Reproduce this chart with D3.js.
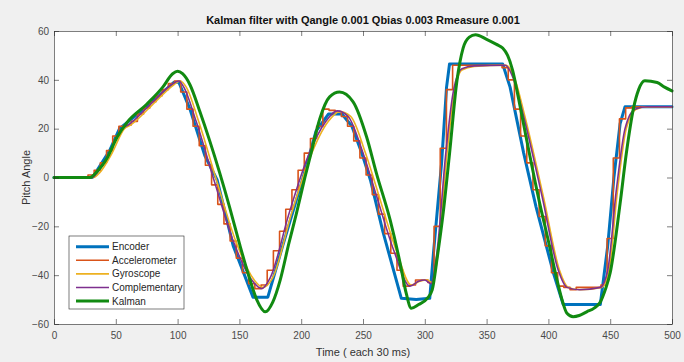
<!DOCTYPE html>
<html><head><meta charset="utf-8">
<script src="https://cdn.jsdelivr.net/npm/d3@7/dist/d3.min.js"></script>
<style>
body{margin:0;background:#f0f0f0;}
svg{display:block;font-family:"Liberation Sans",Arial,sans-serif;}
</style>
</head><body>
<svg id="chart" width="684" height="362"></svg>
<script>
// ---------- data ----------
const titleText = "Kalman filter with Qangle 0.001 Qbias 0.003 Rmeasure 0.001";
const xLabel = "Time ( each 30 ms)";
const yLabel = "Pitch Angle";
const xTicks = [0,50,100,150,200,250,300,350,400,450,500];
const yTicks = [-60,-40,-20,0,20,40,60];
const seriesNames = ["Encoder","Accelerometer","Gyroscope","Complementary","Kalman"];

const encoderT = [0,31,35,45,53,58,70,85,97,101,110,122,132,145,161,173,185,201,212,222,233,241,249,256,266,281,293,304,307,313.6,317.6,320,363,369,380,390,404,412,442,448,453,458,462,500];
const encoderV = [0,0,3,11,20,22,27,33.5,39,39,28,9,-1,-28,-49,-49,-28,-1,19,26,26,21,10,-1,-22,-49.5,-50,-49.5,-31,6,37,46.5,46.5,37,10,-12,-39,-52,-52,-28,0,22,29,29];

// accelerometer sampled every 5 time steps (0..500)
const accelV = [0,0,0,0,0,0,1,3,6,11,
  17,21,21.5,23,26,28.5,31,33.5,36,38.5,
  39.5,35,28,21,13,5,-3,-11,-19,-26,
  -33,-39,-43.5,-45.5,-44,-38,-30,-22,-13,-5,
  3,10,16,21,28,27.5,27,25,21,15,
  8,1,-7,-15,-23,-31,-38,-44.5,-44,-42,
  -42,-43,-20,12,36,46,46,46,46,46,
  46,46,46,45,40,28,17,6,-5,-16,
  -28,-39,-44.5,-45,-46,-45,-45,-45,-45,-44,
  -25,8,24,28.5,29,29,29,29,29,29,29];

const gyroT = [0,32,37,47,57,62,82,97,102,107,117,132,147,162,169,177,192,207,222,231,240,252,262,277,289,296,302,306,311,318,324,330,340,366,373,381,396,409,416,426,443,449,456,463,471,481,500];
const gyroV = [0,0,2,10,20,21.5,31,38,39.5,37,23,-2,-26,-42,-45,-41,-15,8,23,27,25,10,-6,-30,-44,-42.5,-42,-43,-30,10,35,44,45.5,46,40,25,-8,-38,-45,-46,-45,-38,-5,20,28,29,29];

const compT = [0,31,35,45,55,60,80,95,101,105,115,130,145,160,168,175,190,205,220,229,238,250,260,275,288,295,300,305,310,317,323,330,340,365,372,380,395,408,415,425,442,448,455,462,470,480,500];
const compV = [0,0,2,10,20,21.5,31,38,39.5,37,23,-2,-26,-42,-45.5,-41,-15,8,23,27.3,25,10,-6,-30,-44.5,-42.5,-42,-43.5,-30,10,35,44.5,45.7,46,40,25,-8,-38,-45,-46,-45,-38,-5,20,28,29,29];

const kalmanT = [0,29,35,43,51,59,75,88,96,100,104,110,118,126,134,142,150,158,164,171,177,183,190,196,203,208,215,223,231,242,253,261,272,280,285,289,295,302,306,310,315,320,326,331,336,341,350,358,363,367,371,376,382,393,400,407,411,415,420,425,431,437,442,446,450,458,463,469,473,478,488,494,500];
const kalmanV = [0,0,2.5,8,16.5,22.5,30,37,42.5,43.5,42.5,38,27,15,2,-12,-27,-41,-50,-55,-51,-42,-27,-15,0,10,24,33,35,31,16.5,1.5,-17.5,-35,-47.5,-53.5,-52,-49.5,-46,-33,-14,9.7,39.6,53,57.5,58.5,56.6,54.5,53,50,44,32,16.5,-10.7,-26,-42,-50,-55.6,-57,-56.5,-55,-53.5,-51,-46,-39,-10.7,9.7,28.7,36,39.6,38.9,37,35.5];

const colors = ["#0072BD","#D95319","#EDB120","#7E2F8E","#118A11"];
const widths = [3,1.6,1.6,1.6,3];

// ---------- layout ----------
const W = 684, H = 362;
const m = {left:54, right:12, top:31, bottom:38};
const svg = d3.select("#chart");
const x = d3.scaleLinear().domain([0,500]).range([m.left, W-m.right]);
const y = d3.scaleLinear().domain([-60,60]).range([H-m.bottom, m.top]);

svg.append("rect").attr("width",W).attr("height",H).attr("fill","#f0f0f0");
svg.append("rect").attr("x",m.left).attr("y",m.top)
  .attr("width",x(500)-x(0)).attr("height",y(-60)-y(60)).attr("fill","#fff");

const zip = (T,V) => T.map((t,i)=>[t,V[i]]);
const accelT = d3.range(0,501,5);
const data = [
  {pts: zip(encoderT,encoderV), curve: d3.curveLinear},
  {pts: zip(accelT,accelV), curve: d3.curveStep},
  {pts: zip(gyroT,gyroV), curve: d3.curveMonotoneX},
  {pts: zip(compT,compV), curve: d3.curveMonotoneX},
  {pts: zip(kalmanT,kalmanV), curve: d3.curveMonotoneX}
];

const plot = svg.append("g");
data.forEach((d,i)=>{
  const line = d3.line().x(p=>x(p[0])).y(p=>y(p[1])).curve(d.curve);
  plot.append("path").attr("d",line(d.pts)).attr("fill","none")
    .attr("stroke",colors[i]).attr("stroke-width",widths[i])
    .attr("stroke-linejoin","round").attr("stroke-linecap","round");
});

// ---------- axes ----------
const axColor = "#262626";
function styleAxis(g){
  g.selectAll("path,line").attr("stroke",axColor).attr("stroke-width",0.6);
  g.selectAll("text").attr("fill","#4a4a4a").style("font-size","10px").attr("font-family",null);
}
svg.append("g").attr("transform",`translate(0,${y(-60)})`)
  .call(d3.axisBottom(x).tickValues(xTicks).tickSize(-5).tickSizeOuter(0).tickPadding(8)).call(styleAxis);
svg.append("g").attr("transform",`translate(0,${y(60)})`)
  .call(d3.axisTop(x).tickValues(xTicks).tickSize(-5).tickSizeOuter(0).tickFormat("")).call(styleAxis);
svg.append("g").attr("transform",`translate(${x(0)},0)`)
  .call(d3.axisLeft(y).tickValues(yTicks).tickSize(-5).tickSizeOuter(0).tickPadding(5)).call(styleAxis);
svg.append("g").attr("transform",`translate(${x(500)},0)`)
  .call(d3.axisRight(y).tickValues(yTicks).tickSize(-5).tickSizeOuter(0).tickFormat("")).call(styleAxis);

// ---------- texts ----------
svg.append("text").attr("x",(x(0)+x(500))/2).attr("y",24).attr("text-anchor","middle")
  .attr("font-weight","bold").attr("font-size",11).attr("fill","#111").text(titleText);
svg.append("text").attr("x",(x(0)+x(500))/2).attr("y",356).attr("text-anchor","middle")
  .attr("font-size",11).attr("fill","#333").text(xLabel);
svg.append("text").attr("transform",`translate(30,${(y(60)+y(-60))/2}) rotate(-90)`)
  .attr("text-anchor","middle").attr("font-size",11).attr("fill","#333").text(yLabel);

// ---------- legend ----------
const lg = svg.append("g").attr("transform","translate(69,236)");
lg.append("rect").attr("width",115).attr("height",73).attr("fill","#fff")
  .attr("stroke","#262626").attr("stroke-width",0.6);
seriesNames.forEach((n,i)=>{
  const yy = 10.7 + i*13.6;
  lg.append("line").attr("x1",7).attr("x2",40).attr("y1",yy).attr("y2",yy)
    .attr("stroke",colors[i]).attr("stroke-width",widths[i]);
  lg.append("text").attr("x",43).attr("y",yy).attr("dy","0.35em")
    .attr("font-size",10).attr("fill","#262626").text(n);
});
</script>
</body></html>
